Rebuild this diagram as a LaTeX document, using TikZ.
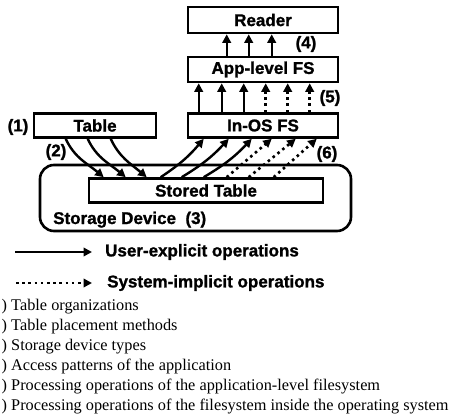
\documentclass[tikz,border=0pt]{standalone}
\usepackage{fontspec}
\setmainfont{Liberation Serif}
\newfontfamily\bsans{Liberation Sans}[BoldFeatures={FakeBold=1.2}]
\usetikzlibrary{arrows.meta}
\begin{document}
\begin{tikzpicture}[x=1pt,y=-1pt,
  lbl/.style={font=\bsans\bfseries\fontsize{17}{20}\selectfont, inner sep=0pt},
  boxnode/.style={draw, line width=2.6pt, inner sep=0pt, font=\bsans\bfseries\fontsize{17}{20}\selectfont},
  tip/.style={-{Triangle[length=8.5pt,width=8.5pt]}},
  uop/.style={tip, line width=2.4pt},
  sop/.style={tip, line width=2.6pt, dash pattern=on 2.6pt off 3.6pt},
  listtxt/.style={font=\fontsize{16.3}{20}\selectfont, anchor=base west, inner sep=0pt}
]
\useasboundingbox (0,0) rectangle (449,417);

% boxes
\node[boxnode, minimum width=150pt, minimum height=26pt] (reader) at (263,20) {Reader};
\node[boxnode, minimum width=150pt, minimum height=25pt] (app) at (263,69.5) {App-level FS};
\node[boxnode, minimum width=150pt, minimum height=24pt] (inos) at (263,125.5) {In-OS FS};
\node[boxnode, minimum width=122pt, minimum height=24pt] (table) at (95,125.5) {Table};
\node[draw, line width=2.6pt, rounded corners=14pt, minimum width=311pt, minimum height=66pt, inner sep=0pt] (dev) at (195.5,198) {};
\node[boxnode, minimum width=234pt, minimum height=24pt] (stored) at (206,190.5) {Stored Table};
\node[lbl, anchor=base west] (devlbl) at (53,224) {Storage Device\ \ (3)};

% labels
\node[lbl] (l1) at (18,127) {(1)};
\node[lbl] (l2) at (56,152) {(2)};
\node[lbl] (l4) at (306,44) {(4)};
\node[lbl] (l5) at (330,98) {(5)};
\node[lbl] (l6) at (327,154) {(6)};

% App -> Reader
\foreach \d in {40,62,85}
  \draw[uop] ([xshift=\d pt]app.north west) -- ([xshift=\d pt]reader.south west);

% In-OS -> App
\foreach \d in {12,35,57}
  \draw[uop] ([xshift=\d pt]inos.north west) -- ([xshift=\d pt]app.south west);
\foreach \d in {79,101,123}
  \draw[sop] ([xshift=\d pt]inos.north west) -- ([xshift=\d pt]app.south west);

% Table -> Stored Table
\foreach \a/\b in {33/16,55/38,78/59}
  \draw[uop] ([xshift=\a pt]table.south west) to[out=-65,in=140] ([xshift=\b pt]stored.north west);

% Stored Table -> In-OS
\foreach \a/\b in {73/17,94/42,116/65}
  \draw[uop] ([xshift=\a pt]stored.north west) to[bend right=8] ([xshift=\b pt]inos.south west);
\foreach \a/\b in {139/85,161/109,186/130}
  \draw[sop] ([xshift=\a pt]stored.north west) -- ([xshift=\b pt]inos.south west);

% legend
\coordinate (ua) at (15,252);
\coordinate (ub) at (92,252);
\coordinate (sa) at (16,283);
\coordinate (sb) at (92,283);
\draw[uop] (ua) -- (ub);
\draw[sop] (sa) -- (sb);
\node[lbl, anchor=west] (ulbl) at (105,252) {User-explicit operations};
\node[lbl, anchor=west] (slbl) at (107,283) {System-implicit operations};

% list (left edge of the reference is cropped)
\node[listtxt] (t1) at (1.5,310) {) Table organizations};
\node[listtxt] (t2) at (1.5,330) {) Table placement methods};
\node[listtxt] (t3) at (1.5,350) {) Storage device types};
\node[listtxt] (t4) at (1.5,370) {) Access patterns of the application};
\node[listtxt] (t5) at (1.5,390) {) Processing operations of the application-level filesystem};
\node[listtxt] (t6) at (1.5,410) {) Processing operations of the filesystem inside the operating system};
\end{tikzpicture}
\end{document}
